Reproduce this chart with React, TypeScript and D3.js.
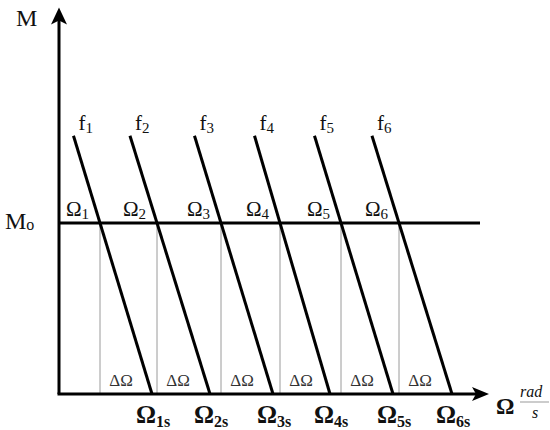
import React from "react";
import * as d3 from "d3";

// Machine indices and characteristic parameters (Ω in rad/s units, M relative to Mo)
const machines = ["1", "2", "3", "4", "5", "6"];
const omegaSync = [0.93, 1.51, 2.14, 2.71, 3.34, 3.93]; // Ω_is at M = 0
const omegaOp = [0.41, 0.98, 1.62, 2.21, 2.82, 3.40]; // Ω_i at M = Mo
const M0 = 1;
const M_TOP = 1.51;
const M_AXIS_TOP = 2.26;
const OMEGA_AXIS_END = 4.3;

const W = 550;
const H = 430;

const x = d3.scaleLinear().domain([0, OMEGA_AXIS_END]).range([59, 489]);
const y = d3.scaleLinear().domain([0, M0]).range([394, 223]);

const serif = "'Liberation Serif', 'Times New Roman', serif";

function omegaAt(i: number, m: number) {
  const s = omegaSync[i];
  return s - (s - omegaOp[i]) * (m / M0);
}

export default function App() {
  const line = d3.line<[number, number]>().x((d) => x(d[0])).y((d) => y(d[1]));
  const x0 = x(0);
  const y0 = y(0);
  const yTop = y(M_AXIS_TOP);
  const xEnd = x(OMEGA_AXIS_END);

  return (
    <svg
      width={W}
      height={H}
      style={{ position: "absolute", left: 0, top: 0, background: "#fff" }}
      fontFamily={serif}
    >
      {/* thin verticals from operating points down to the Ω axis */}
      {machines.map((m, i) => (
        <line
          key={"v" + m}
          x1={x(omegaOp[i])}
          x2={x(omegaOp[i])}
          y1={y(M0)}
          y2={y0}
          stroke="#9a9a9a"
          strokeWidth={1}
        />
      ))}

      {/* load torque level Mo */}
      <line x1={x0} x2={x(4.21)} y1={y(M0)} y2={y(M0)} stroke="#000" strokeWidth={3} />

      {/* mechanical characteristics */}
      {machines.map((m, i) => (
        <path
          key={"f" + m}
          d={line([
            [omegaAt(i, M_TOP), M_TOP],
            [omegaSync[i], 0],
          ])!}
          stroke="#000"
          strokeWidth={3}
          fill="none"
        />
      ))}

      {/* axes */}
      <line x1={x0} x2={x0} y1={y0} y2={yTop + 10} stroke="#000" strokeWidth={3} />
      <path
        d={`M${x0},${yTop} L${x0 + 8},${yTop + 17} L${x0},${yTop + 13} L${x0 - 8},${yTop + 17} Z`}
        fill="#000"
      />
      <line x1={x0 - 1.5} x2={xEnd - 10} y1={y0} y2={y0} stroke="#000" strokeWidth={3} />
      <path
        d={`M${xEnd},${y0} L${xEnd - 17},${y0 - 7} L${xEnd - 13},${y0} L${xEnd - 17},${y0 + 7} Z`}
        fill="#000"
      />

      {/* axis titles */}
      <text x={16} y={26} fontSize={24} fill="#111">M</text>
      <text x={5} y={229} fontSize={24} fill="#111">
        M<tspan fontSize={16} dy={1}>o</tspan>
      </text>
      <text x={496} y={414} fontSize={23} fontWeight="bold" fill="#111">Ω</text>
      <text x={520} y={397} fontSize={16} fontStyle="italic" fill="#111">rad</text>
      <line x1={520} x2={549} y1={402} y2={402} stroke="#555" strokeWidth={0.6} />
      <text x={535} y={418} fontSize={16} fontStyle="italic" textAnchor="middle" fill="#111">s</text>

      {/* characteristic labels f_i */}
      {machines.map((m, i) => (
        <text key={"lf" + m} x={x(omegaAt(i, M_TOP)) + 5} y={130} fontSize={21} fill="#111">
          f<tspan fontSize={15} dy={3}>{m}</tspan>
        </text>
      ))}

      {/* operating speed labels Ω_i */}
      {machines.map((m, i) => (
        <text
          key={"lo" + m}
          x={x(omegaOp[i]) - 11}
          y={216}
          fontSize={21}
          textAnchor="end"
          fill="#111"
        >
          Ω<tspan fontSize={15} dy={3}>{m}</tspan>
        </text>
      ))}

      {/* slip ΔΩ labels */}
      {machines.map((m, i) => (
        <text
          key={"ld" + m}
          x={x(omegaOp[i]) + 21}
          y={386}
          fontSize={17}
          textAnchor="middle"
          fill="#333"
        >
          ΔΩ
        </text>
      ))}

      {/* synchronous speed labels Ω_is */}
      {machines.map((m, i) => (
        <text
          key={"ls" + m}
          x={x(omegaSync[i]) - 16}
          y={423}
          fontSize={25}
          fontWeight="bold"
          fill="#111"
        >
          Ω<tspan fontSize={16} dy={4}>{m + "s"}</tspan>
        </text>
      ))}
    </svg>
  );
}
